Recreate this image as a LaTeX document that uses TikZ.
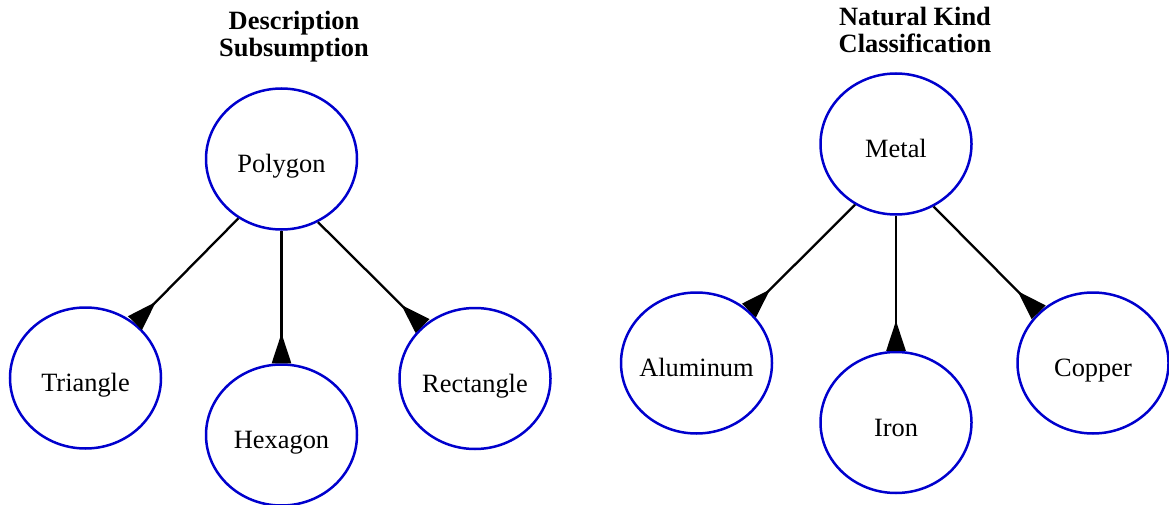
\documentclass[tikz,border=0pt]{standalone}
\usepackage{fontspec}
\setmainfont{Liberation Serif}
\usetikzlibrary{shapes.geometric,arrows.meta}
\definecolor{nodeblue}{RGB}{0,0,205}
\begin{document}
\begin{tikzpicture}[x=1pt,y=-1pt,
  concept/.style={ellipse,draw=nodeblue,line width=2.5pt,
    minimum width=151pt,minimum height=141pt,inner xsep=-20pt,inner ysep=0pt,
    text height=27pt,text depth=0pt,
    font=\fontsize{26.4}{27}\selectfont},
  title/.style={anchor=base,align=center,
    font=\fontsize{26.4}{27}\selectfont\bfseries},
  isa/.style={line width=2.3pt,-{Triangle[reversed,length=30pt,width=19pt]}}]
\useasboundingbox (0,0) rectangle (1169,505);
% left group
\node[title] (t1) at (294,57) {Description\\Subsumption};
\node[concept] (polygon) at (281.5,159) {Polygon};
\node[concept] (triangle) at (85.5,378) {Triangle};
\node[concept] (hexagon) at (281.5,435) {Hexagon};
\node[concept] (rectangle) at (475,378.5) {Rectangle};
\draw[isa] (polygon.234) -- (triangle.48);
\draw[isa] (polygon.270) -- (hexagon.90);
\draw[isa] (polygon.300) -- (rectangle.135);
% right group
\node[title] (t2) at (915,53) {Natural Kind\\Classification};
\node[concept] (metal) at (896,144) {Metal};
\node[concept] (aluminum) at (696.5,363) {Aluminum};
\node[concept] (iron) at (896,422.5) {Iron};
\node[concept] (copper) at (1093,363) {Copper};
\draw[isa] (metal.236) -- (aluminum.45);
\draw[isa] (metal.270) -- (iron.90);
\draw[isa] (metal.301) -- (copper.137);
\end{tikzpicture}
\end{document}
